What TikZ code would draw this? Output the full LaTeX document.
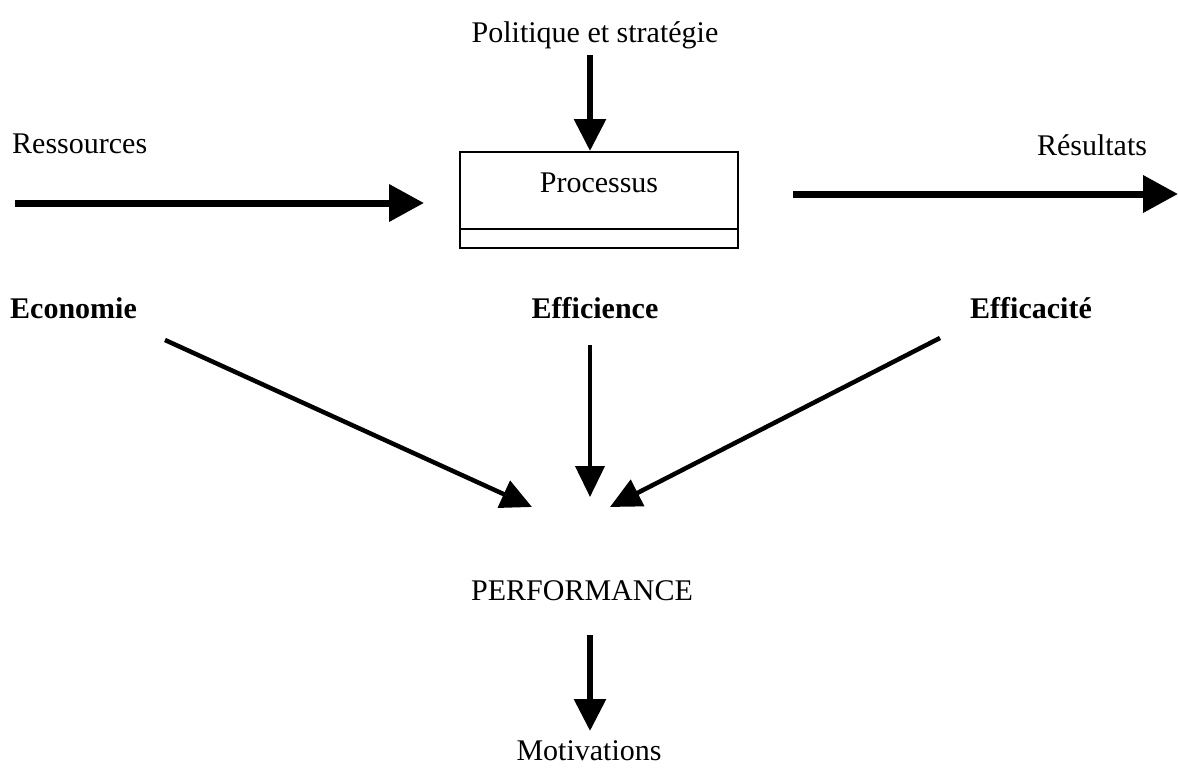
\documentclass[tikz,border=0pt]{standalone}
\usepackage{fontspec}
\setmainfont{Liberation Serif}
\usetikzlibrary{arrows.meta}
\begin{document}
\begin{tikzpicture}[x=1pt,y=-1pt,
  lbl/.style={font=\fontsize{30}{32}\selectfont, inner sep=0pt, anchor=base},
  blbl/.style={lbl, font=\fontsize{30}{32}\selectfont\bfseries},
  bigarrow/.style={line width=7pt, -{Triangle[length=35pt,width=36pt]}},
  midarrow/.style={line width=6pt, -{Triangle[length=32pt,width=31pt]}},
  thinarrow/.style={line width=4pt, -{Triangle[length=31pt,width=29pt]}}]
\useasboundingbox (0,0) rectangle (1178,768);
% texts
\node[lbl] (pol) at (595,43) {Politique et stratégie};
\node[lbl, anchor=base west] (res) at (12,153) {Ressources};
\node[lbl] (resu) at (1092,155) {Résultats};
\node[blbl, anchor=base west] (eco) at (10,318) {Economie};
\node[blbl] (effi) at (595,318) {Efficience};
\node[blbl] (effa) at (1031,318) {Efficacité};
\node[lbl] (perf) at (582,600) {PERFORMANCE};
\node[lbl] (moti) at (589,760) {Motivations};
% process box
\node[draw, line width=1.6pt, minimum width=278pt, minimum height=96pt, inner sep=0pt] (proc) at (599,200) {};
\draw[line width=1.6pt] (proc.west |- 0,229) -- (proc.east |- 0,229);
\node[lbl] (proctext) at (599,192) {Processus};
% arrow coordinates
\coordinate (polA) at (590,55);
\coordinate (polB) at (590,151);
\coordinate (resA) at (15,203);
\coordinate (resB) at (424,203);
\coordinate (resuA) at (793,194);
\coordinate (resuB) at (1178,194);
\coordinate (ecoA) at (165,340);
\coordinate (ecoB) at (532,507);
\coordinate (effiA) at (590,345);
\coordinate (effiB) at (590,497);
\coordinate (effaA) at (940,338);
\coordinate (effaB) at (610,507);
\coordinate (perfA) at (590,635);
\coordinate (perfB) at (590,731);
% arrows
\draw[midarrow] (polA) -- (polB);
\draw[bigarrow] (resA) -- (resB);
\draw[bigarrow] (resuA) -- (resuB);
\draw[thinarrow, line width=4.5pt] (ecoA) -- (ecoB);
\draw[thinarrow] (effiA) -- (effiB);
\draw[thinarrow, line width=4.5pt] (effaA) -- (effaB);
\draw[midarrow] (perfA) -- (perfB);
\end{tikzpicture}
\end{document}
